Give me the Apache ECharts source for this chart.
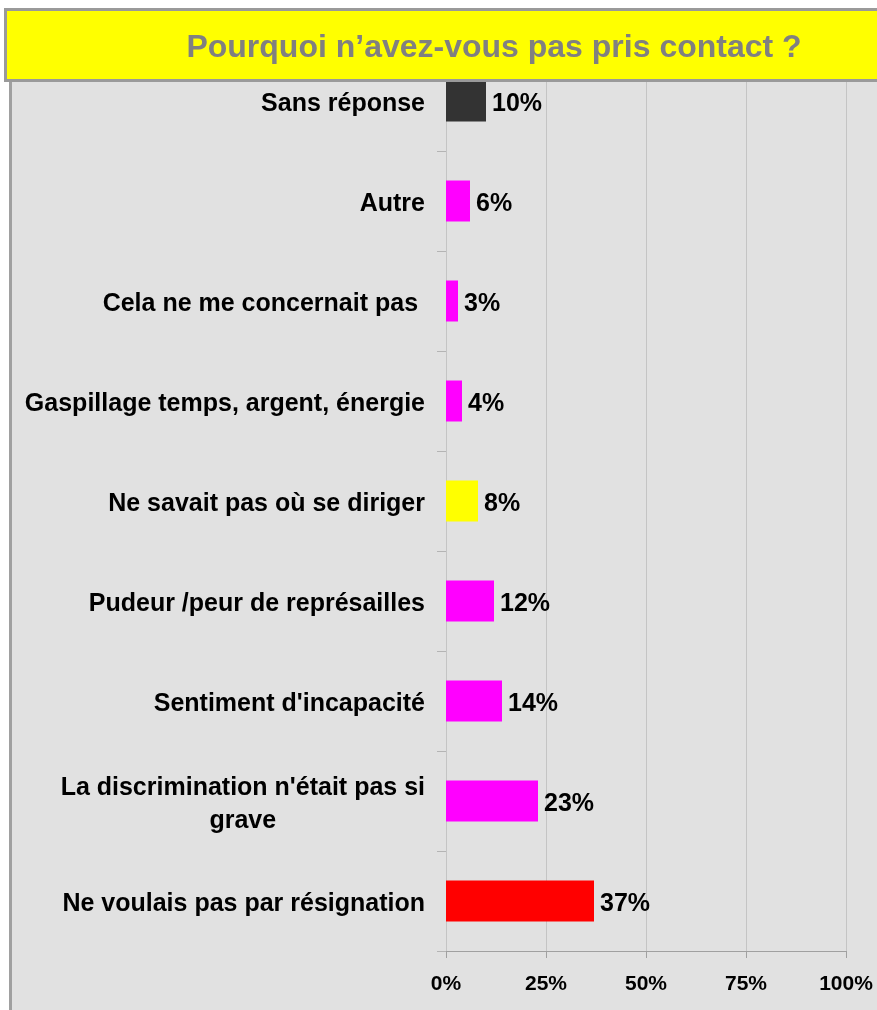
<!DOCTYPE html>
<html>
<head>
<meta charset="utf-8">
<script src="https://cdn.jsdelivr.net/npm/echarts@6/dist/echarts.min.js"></script>
<style>
  html, body { margin: 0; padding: 0; background: #fff; }
  #chart { width: 877px; height: 1010px; }
</style>
</head>
<body>
<div id="chart"></div>
<script>
const titleText = 'Pourquoi n\u2019avez-vous pas pris contact ?';
const categories = [
  'Sans réponse',
  'Autre',
  'Cela ne me concernait pas ',
  'Gaspillage temps, argent, énergie',
  'Ne savait pas où se diriger',
  'Pudeur /peur de représailles',
  "Sentiment d'incapacité",
  "La discrimination n'était pas si grave",
  'Ne voulais pas par résignation'
];
const values = [10, 6, 3, 4, 8, 12, 14, 23, 37];
const barColors = ['#333333', '#ff00ff', '#ff00ff', '#ff00ff', '#ffff00', '#ff00ff', '#ff00ff', '#ff00ff', '#ff0000'];
const xTicks = [0, 25, 50, 75, 100];

const FONT = '"Liberation Sans", Arial, sans-serif';
const chart = echarts.init(document.getElementById('chart'));

const option = {
  backgroundColor: '#e1e1e1',
  animation: false,
  grid: { left: 446, right: 31, top: 51, bottom: 59, containLabel: false, outerBoundsMode: 'none' },
  xAxis: {
    type: 'value',
    min: xTicks[0],
    max: xTicks[xTicks.length - 1],
    interval: 25,
    axisLine: { show: true, lineStyle: { color: '#a0a0a0', width: 1 } },
    axisTick: { show: true, length: 7, lineStyle: { color: '#a0a0a0' } },
    splitLine: { show: true, lineStyle: { color: '#c4c4c4', width: 1 } },
    axisLabel: {
      margin: 23,
      fontFamily: FONT, fontSize: 21, fontWeight: 'bold', color: '#000',
      formatter: v => v + '%'
    }
  },
  yAxis: {
    type: 'category',
    inverse: true,
    data: categories,
    axisLine: { show: true, lineStyle: { color: '#c4c4c4', width: 1 } },
    axisTick: { show: true, length: 9, lineStyle: { color: '#b4b4b4' } },
    axisLabel: {
      margin: 21,
      padding: [7, 0, 0, 0],
      fontFamily: FONT, fontSize: 25, fontWeight: 'bold', color: '#000',
      formatter: v => {
        if (v.indexOf('La discrimination') === 0) {
          return "{a|La discrimination n'était pas si}\n{b|grave}";
        }
        return v;
      },
      rich: {
        a: { fontFamily: FONT, fontSize: 25, fontWeight: 'bold', color: '#000', lineHeight: 33 },
        b: { fontFamily: FONT, fontSize: 25, fontWeight: 'bold', color: '#000', lineHeight: 33, align: 'center' }
      }
    }
  },
  series: [{
    type: 'bar',
    barWidth: 41,
    data: values.map((v, i) => ({ value: v, itemStyle: { color: barColors[i] } })),
    label: {
      show: true,
      position: 'right',
      distance: 6,
      offset: [0, 3],
      fontFamily: FONT, fontSize: 25, fontWeight: 'bold', color: '#000',
      formatter: p => p.value + '%'
    }
  }],
  graphic: [
    { type: 'rect', z: 100, shape: { x: 0, y: 0, width: 877, height: 9 }, style: { fill: '#fff' } },
    { type: 'rect', z: 100, shape: { x: 0, y: 0, width: 9, height: 1010 }, style: { fill: '#fff' } },
    { type: 'line', z: 100, shape: { x1: 10.5, y1: 80, x2: 10.5, y2: 1010 }, style: { stroke: '#a0a0a0', lineWidth: 3 } },
    { type: 'rect', z: 101, shape: { x: 5.5, y: 9.5, width: 880, height: 71 }, style: { fill: '#ffff00', stroke: '#9a9a9a', lineWidth: 3 } },
    {
      type: 'text', z: 102, x: 494, y: 48,
      style: {
        text: titleText, fontFamily: FONT, fontSize: 32, fontWeight: 'bold',
        fill: '#808080', align: 'center', verticalAlign: 'middle'
      }
    }
  ]
};

chart.setOption(option);
</script>
</body>
</html>
